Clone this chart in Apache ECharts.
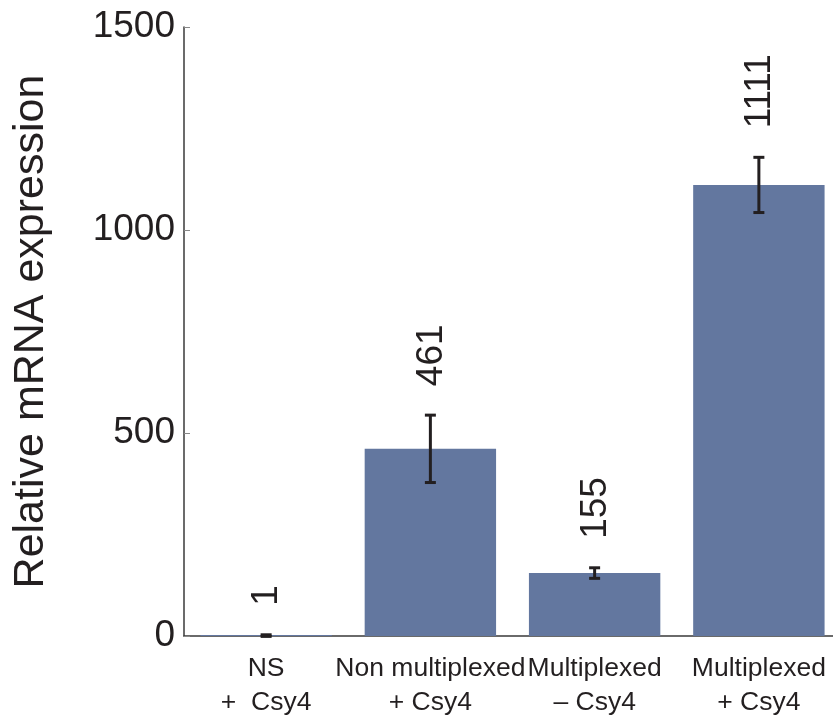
<!DOCTYPE html>
<html>
<head>
<meta charset="utf-8">
<script src="https://cdn.jsdelivr.net/npm/echarts@6/dist/echarts.min.js"></script>
<style>
  html, body { margin: 0; padding: 0; background: #fff; }
  #chart { width: 833px; height: 719px; }
</style>
</head>
<body>
<div id="chart"></div>
<script>
// Relative mRNA expression per construct (mean ± error)
const categories = ['NS\n+  Csy4', 'Non multiplexed\n+ Csy4', 'Multiplexed\n– Csy4', 'Multiplexed\n+ Csy4'];
const means = [1, 461, 155, 1111];
const errors = [2, 83, 13, 68];
const yMin = 0, yMax = 1500, yStep = 500;

const ink = '#231F20';
const barColor = '#63779F';
const fontFamily = '"Liberation Sans", Arial, Helvetica, sans-serif';

const chart = echarts.init(document.getElementById('chart'), null, { renderer: 'canvas' });

const errData = means.map((m, i) => [i, m, errors[i]]);

chart.setOption({
  animation: false,
  grid: {
    left: 184, width: 657, top: 27, bottom: 83,
    containLabel: false,
    outerBoundsMode: 'none'
  },
  xAxis: {
    type: 'category',
    data: categories,
    axisTick: { show: false },
    axisLine: { lineStyle: { color: '#3a3a3a', width: 1.5 } },
    axisLabel: {
      color: ink, fontSize: 26.5, fontFamily: fontFamily,
      lineHeight: 34, margin: 16, interval: 0
    }
  },
  yAxis: {
    type: 'value',
    min: yMin, max: yMax, interval: yStep,
    name: 'Relative mRNA expression',
    nameLocation: 'middle',
    nameGap: 131,
    nameTextStyle: { color: ink, fontSize: 43, fontFamily: fontFamily },
    splitLine: { show: false },
    axisLine: { show: true, lineStyle: { color: '#3a3a3a', width: 1.5 } },
    axisTick: { show: true, inside: true, length: 6, lineStyle: { color: '#888' } },
    axisLabel: {
      color: ink, fontSize: 37, fontFamily: fontFamily, margin: 9,
      formatter: function (v) { return String(v); }
    }
  },
  series: [
    {
      type: 'bar',
      data: means,
      barWidth: '80%',
      barMinHeight: 1,
      itemStyle: { color: barColor }
    },
    {
      type: 'custom',
      clip: false,
      z: 5,
      data: errData,
      renderItem: function (params, api) {
        const idx = api.value(0);
        const m = api.value(1);
        const e = api.value(2);
        const hi = api.coord([idx, m + e]);
        const lo = api.coord([idx, m - e]);
        const cap = 5.5;
        const lw = { stroke: ink, lineWidth: 3 };
        return {
          type: 'group',
          children: [
            { type: 'line', shape: { x1: hi[0], y1: hi[1], x2: lo[0], y2: lo[1] }, style: lw },
            { type: 'line', shape: { x1: hi[0] - cap, y1: hi[1], x2: hi[0] + cap, y2: hi[1] }, style: lw },
            { type: 'line', shape: { x1: lo[0] - cap, y1: lo[1], x2: lo[0] + cap, y2: lo[1] }, style: lw },
            {
              type: 'text',
              x: hi[0] + 1,
              y: hi[1] - 29,
              rotation: Math.PI / 2,
              style: {
                text: String(m),
                fontSize: 37,
                fontFamily: fontFamily,
                fill: ink,
                align: 'left',
                verticalAlign: 'middle'
              }
            }
          ]
        };
      }
    }
  ]
});
</script>
</body>
</html>
